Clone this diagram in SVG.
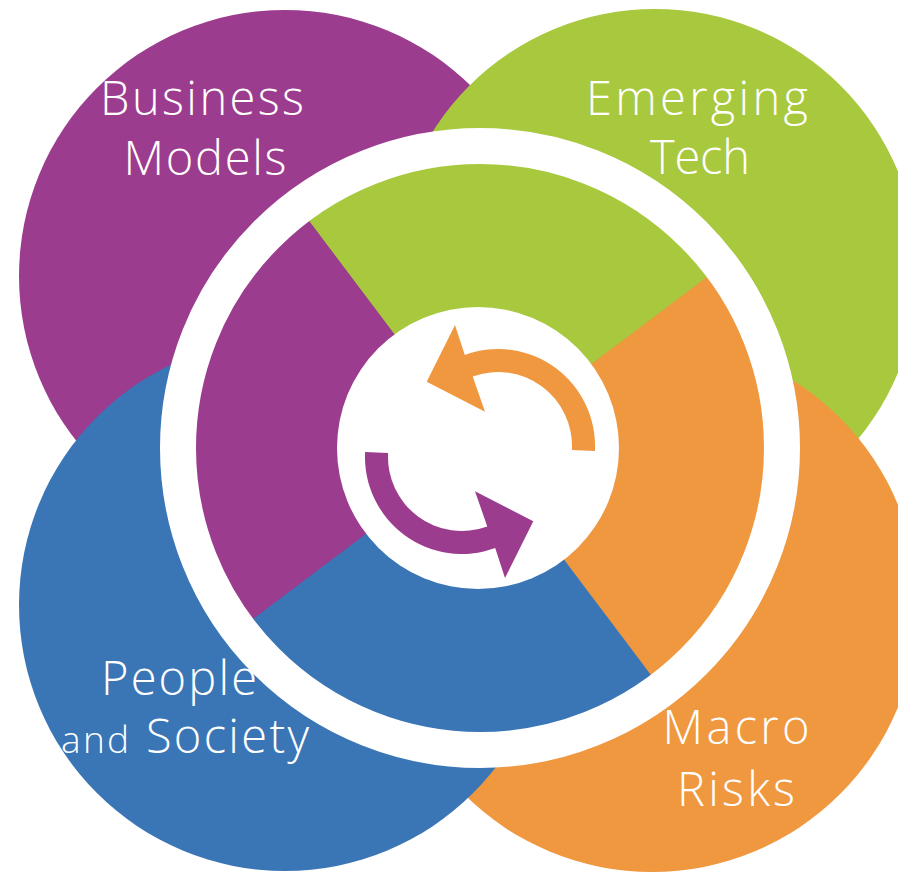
<svg xmlns="http://www.w3.org/2000/svg" xmlns:xlink="http://www.w3.org/1999/xlink" width="898" height="872" viewBox="0 0 898 872">
<style>
  .lbl{font-family:"Open Sans","Liberation Sans",sans-serif;font-weight:300;fill:#ffffff;text-anchor:middle;font-size:47px}
  .sm{font-size:37px}
  .purple{fill:#9C3C8E}
  .green{fill:#A8C83E}
  .blue{fill:#3A76B6}
  .orange{fill:#F0983F}
  .ring{fill:none;stroke:#ffffff;stroke-width:36}
</style>
<defs>
  <path id="cyc" d="M594.9 451.1 A97 97 0 0 0 464.8 354.9 L455 325 L426.7 381.7 L485 411.7 L472.7 376.5 A74 74 0 0 1 571.9 449.9 Z"/>
</defs>
<rect width="898" height="872" fill="#ffffff"/>
<g id="business-models">
  <circle class="purple" cx="285" cy="276" r="266"/>
  <text class="lbl" x="202" y="115" textLength="204" lengthAdjust="spacing">Business</text>
  <text class="lbl" x="205" y="175" textLength="163" lengthAdjust="spacing">Models</text>
</g>
<g id="emerging-tech">
  <circle class="green" cx="655" cy="272" r="263"/>
  <text class="lbl" x="697" y="115" textLength="222" lengthAdjust="spacing">Emerging</text>
  <text class="lbl" x="700" y="174" textLength="100" lengthAdjust="spacing">Tech</text>
</g>
<g id="macro-risks">
  <circle class="orange" cx="652" cy="606" r="266"/>
  <text class="lbl" x="736" y="744" textLength="147" lengthAdjust="spacing">Macro</text>
  <text class="lbl" x="736" y="806" textLength="118" lengthAdjust="spacing">Risks</text>
</g>
<g id="people-society">
  <circle class="blue" cx="285" cy="605" r="266"/>
  <text class="lbl" x="179" y="695" textLength="156" lengthAdjust="spacing">People</text>
  <text class="lbl" x="185" y="753" textLength="248" lengthAdjust="spacing"><tspan class="sm">and</tspan> Society</text>
</g>
<g id="hub">
  <path class="green" d="M480 448 L298.3 206.8 A302 302 0 0 1 721.2 266.3 Z"/>
  <path class="orange" d="M480 448 L721.2 266.3 A302 302 0 0 1 661.7 689.2 Z"/>
  <path class="blue" d="M480 448 L661.7 689.2 A302 302 0 0 1 238.8 629.7 Z"/>
  <path class="purple" d="M480 448 L238.8 629.7 A302 302 0 0 1 298.3 206.8 Z"/>
  <circle class="ring" cx="480" cy="448" r="302"/>
  <circle cx="478" cy="448" r="141" fill="#ffffff"/>
</g>
<g id="connectors">
  <use xlink:href="#cyc" class="orange"/>
  <use xlink:href="#cyc" class="purple" transform="rotate(180 480 451.5)"/>
</g>
</svg>
